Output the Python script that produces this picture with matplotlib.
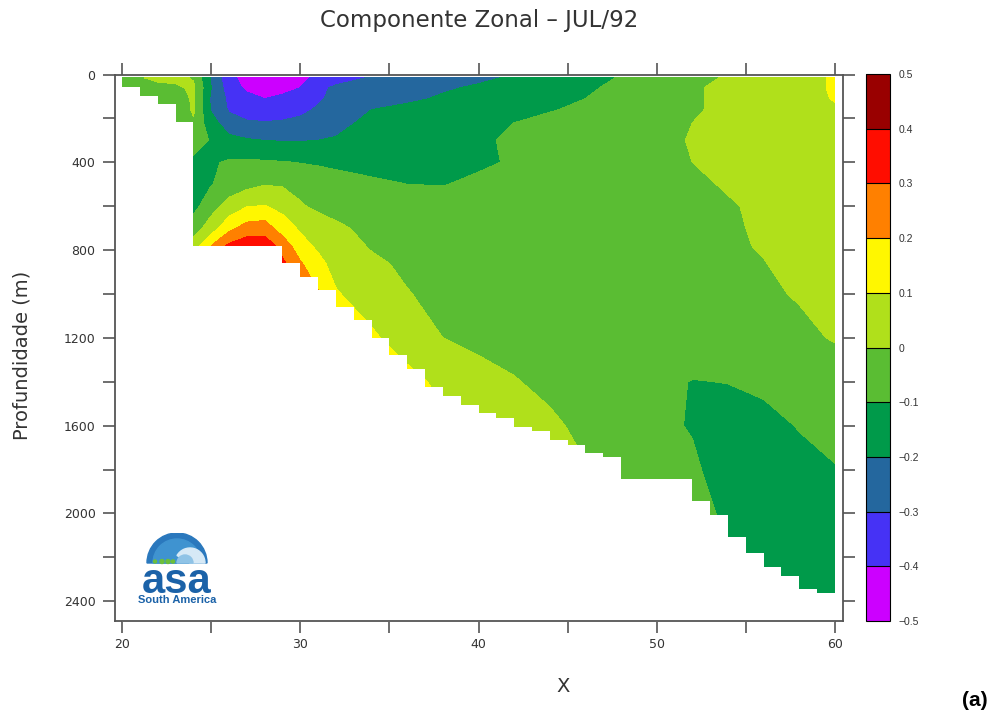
import numpy as np
import matplotlib
matplotlib.use("Agg")
import matplotlib.pyplot as plt
from matplotlib.colors import ListedColormap, BoundaryNorm
from matplotlib.patches import Wedge, Circle

# grid (X, depth in m)
x_nodes = [20, 21, 22, 23, 24, 25, 26, 27, 28, 29, 30, 31, 32,
           34, 36, 38, 40, 42, 44, 46, 48, 50, 52, 54, 56, 58, 60]
depth_nodes = [15, 60, 110, 160, 220, 300, 400, 500, 600, 700, 780, 860,
               1000, 1200, 1400, 1600, 1800, 2000, 2200, 2400]

# zonal velocity estimated at each depth row (one value per x node)
u_0015 = [-0.04, -0.01, 0.03, 0.03, -0.01, -0.21, -0.37, -0.44, -0.47, -0.46, -0.42, -0.38, -0.35,
          -0.29, -0.27, -0.24, -0.215, -0.19, -0.16, -0.125, -0.095, -0.06, -0.03, 0.01, 0.04, 0.07, 0.11]
u_0060 = [-0.04, -0.04, -0.04, -0.02, 0.02, -0.20, -0.35, -0.42, -0.44, -0.43, -0.40, -0.33, -0.28,
          -0.25, -0.23, -0.21, -0.19, -0.16, -0.135, -0.11, -0.085, -0.05, -0.01, 0.02, 0.045, 0.07, 0.11]
u_0110 = [-0.04, -0.05, -0.06, -0.08, 0.02, -0.22, -0.32, -0.37, -0.40, -0.38, -0.35, -0.31, -0.28,
          -0.24, -0.215, -0.19, -0.17, -0.15, -0.125, -0.10, -0.075, -0.045, -0.01, 0.02, 0.045, 0.07, 0.105]
u_0160 = [-0.04, -0.05, -0.07, -0.11, 0.02, -0.21, -0.31, -0.34, -0.35, -0.34, -0.32, -0.29, -0.26,
          -0.20, -0.18, -0.165, -0.15, -0.13, -0.105, -0.085, -0.065, -0.04, -0.01, 0.02, 0.045, 0.07, 0.09]
u_0220 = [-0.05, -0.06, -0.08, -0.10, -0.02, -0.16, -0.26, -0.29, -0.295, -0.29, -0.28, -0.26, -0.235,
          -0.17, -0.155, -0.14, -0.125, -0.10, -0.08, -0.065, -0.045, -0.025, 0.0, 0.02, 0.04, 0.06, 0.08]
u_0300 = [-0.05, -0.06, -0.08, -0.10, -0.04, -0.11, -0.17, -0.19, -0.20, -0.205, -0.205, -0.20, -0.19,
          -0.16, -0.14, -0.125, -0.11, -0.09, -0.075, -0.06, -0.04, -0.02, 0.005, 0.025, 0.04, 0.06, 0.075]
u_0400 = [-0.05, -0.06, -0.07, -0.09, -0.13, -0.11, -0.09, -0.085, -0.09, -0.095, -0.103, -0.11, -0.115,
          -0.12, -0.115, -0.11, -0.108, -0.095, -0.075, -0.055, -0.04, -0.02, 0.0, 0.02, 0.04, 0.055, 0.07]
u_0500 = [-0.05, -0.06, -0.07, -0.09, -0.13, -0.105, -0.06, -0.03, -0.005, -0.01, -0.03, -0.05, -0.07,
          -0.09, -0.10, -0.102, -0.09, -0.075, -0.065, -0.05, -0.035, -0.025, -0.01, 0.005, 0.02, 0.04, 0.06]
u_0600 = [-0.05, -0.06, -0.07, -0.09, -0.13, -0.04, 0.04, 0.095, 0.105, 0.07, 0.01, -0.02, -0.04,
          -0.06, -0.07, -0.075, -0.07, -0.065, -0.055, -0.045, -0.035, -0.025, -0.015, -0.005, 0.01, 0.03, 0.05]
u_0700 = [0.0, 0.0, 0.0, 0.0, -0.05, 0.05, 0.17, 0.24, 0.25, 0.15, 0.085, 0.05, 0.02,
          -0.03, -0.045, -0.05, -0.05, -0.05, -0.045, -0.04, -0.035, -0.03, -0.02, -0.01, 0.01, 0.03, 0.05]
u_0780 = [0.0, 0.0, 0.0, 0.0, 0.05, 0.20, 0.32, 0.36, 0.36, 0.26, 0.14, 0.08, 0.05,
          -0.01, -0.03, -0.04, -0.045, -0.045, -0.04, -0.04, -0.035, -0.03, -0.02, -0.01, 0.005, 0.025, 0.045]
u_0860 = [0.0, 0.0, 0.0, 0.0, 0.08, 0.25, 0.35, 0.38, 0.37, 0.32, 0.21, 0.13, 0.06,
          0.02, -0.02, -0.035, -0.04, -0.04, -0.04, -0.035, -0.03, -0.025, -0.02, -0.01, -0.002, 0.02, 0.04]
u_1000 = [0.1, 0.1, 0.1, 0.1, 0.1, 0.25, 0.33, 0.35, 0.34, 0.30, 0.26, 0.21, 0.11,
          0.04, 0.005, -0.03, -0.035, -0.035, -0.035, -0.03, -0.03, -0.03, -0.025, -0.02, -0.01, 0.005, 0.03]
u_1200 = [0.3, 0.3, 0.3, 0.3, 0.3, 0.3, 0.3, 0.3, 0.3, 0.3, 0.3, 0.25, 0.2,
          0.12, 0.04, 0.0, -0.02, -0.03, -0.035, -0.04, -0.045, -0.05, -0.05, -0.04, -0.03, -0.015, 0.005]
u_1400 = [0.3, 0.3, 0.3, 0.3, 0.3, 0.3, 0.3, 0.3, 0.3, 0.3, 0.3, 0.3, 0.25,
          0.2, 0.14, 0.07, 0.03, 0.005, -0.02, -0.04, -0.06, -0.08, -0.103, -0.098, -0.08, -0.06, -0.04]
u_1600 = [0.25, 0.25, 0.25, 0.25, 0.25, 0.25, 0.25, 0.25, 0.25, 0.25, 0.25, 0.25, 0.25,
          0.22, 0.17, 0.12, 0.07, 0.04, 0.015, -0.02, -0.05, -0.085, -0.105, -0.14, -0.13, -0.095, -0.07]
u_1800 = [0.2, 0.2, 0.2, 0.2, 0.2, 0.2, 0.2, 0.2, 0.2, 0.2, 0.2, 0.2, 0.2,
          0.2, 0.2, 0.2, 0.2, 0.2, 0.03, 0.005, -0.03, -0.07, -0.088, -0.135, -0.15, -0.13, -0.105]
u_2000 = [0.0, 0.0, 0.0, 0.0, 0.0, 0.0, 0.0, 0.0, 0.0, 0.0, 0.0, 0.0, 0.0,
          0.0, 0.0, 0.0, 0.0, 0.0, 0.0, 0.0, -0.05, -0.075, -0.09, -0.105, -0.15, -0.15, -0.14]
u_2200 = [-0.08, -0.08, -0.08, -0.08, -0.08, -0.08, -0.08, -0.08, -0.08, -0.08, -0.08, -0.08, -0.08,
          -0.08, -0.08, -0.08, -0.08, -0.08, -0.08, -0.08, -0.08, -0.08, -0.09, -0.10, -0.14, -0.15, -0.14]
u_2400 = [-0.08, -0.08, -0.08, -0.08, -0.08, -0.08, -0.08, -0.08, -0.08, -0.08, -0.08, -0.08, -0.08,
          -0.08, -0.08, -0.08, -0.08, -0.08, -0.08, -0.08, -0.08, -0.08, -0.09, -0.10, -0.13, -0.14, -0.14]

# sea floor: depth of the deepest valid cell in each 1-unit column, starting at X = 20
bottom_x_start = 20
bottom_depth = [59, 100, 136, 218, 782, 782, 782, 782, 782, 860,
                922, 982, 1059, 1120, 1200, 1280, 1341, 1423, 1464, 1504,
                1541, 1564, 1604, 1623, 1664, 1686, 1723, 1741, 1845, 1845,
                1845, 1845, 1945, 2009, 2105, 2182, 2245, 2286, 2345, 2364]

levels = [-0.5, -0.4, -0.3, -0.2, -0.1, 0.0, 0.1, 0.2, 0.3, 0.4, 0.5]
level_labels = ["\u22120.5", "\u22120.4", "\u22120.3", "\u22120.2", "\u22120.1",
                "0", "0.1", "0.2", "0.3", "0.4", "0.5"]
shade_colors = ["#cc00ff", "#4632f5", "#24679e", "#009a4a", "#5abd33",
                "#b0e01b", "#fff700", "#ff8000", "#ff0d00", "#990000"]

TEXT_COLOR = "#333333"
AXIS_COLOR = "#555555"
LOGO_BLUE = "#1b62a8"


def draw_logo(fig):
    # small axes in pixel units, bottom-left at (130, 607) of the picture
    lax = fig.add_axes([130 / 997, 1 - 607 / 718, 95 / 997, 74 / 718])
    lax.set_xlim(0, 95)
    lax.set_ylim(0, 74)
    lax.set_aspect("equal")
    lax.axis("off")
    lax.add_patch(Wedge((47, 44), 30, 0, 180, color="#2a78bd"))
    lax.add_patch(Wedge((47, 44), 24, 0, 180, color="#3f93d0"))
    lax.add_patch(Wedge((60, 44), 15, 0, 150, color="#d6e9f6"))
    lax.add_patch(Wedge((55, 44), 8, 0, 180, color="#8fc3e6"))
    for cx, r in ((25, 1.5), (32, 2.0), (38, 2.0), (43, 1.6)):
        lax.add_patch(Circle((cx, 45.5), r, color="#6cbf3a"))
    lax.text(47, 14, "asa", ha="center", va="baseline", fontsize=30, fontweight="bold",
             family="Liberation Sans", color=LOGO_BLUE)
    lax.text(47, 4, "South America", ha="center", va="baseline", fontsize=8, fontweight="bold",
             family="Liberation Sans", color=LOGO_BLUE)


def main():
    u = np.array([u_0015, u_0060, u_0110, u_0160, u_0220, u_0300, u_0400, u_0500,
                  u_0600, u_0700, u_0780, u_0860, u_1000, u_1200, u_1400, u_1600,
                  u_1800, u_2000, u_2200, u_2400])
    X, Z = np.meshgrid(x_nodes, depth_nodes)

    cmap = ListedColormap(shade_colors)
    norm = BoundaryNorm(levels, cmap.N)

    fig = plt.figure(figsize=(9.97, 7.18), dpi=100)
    ax = fig.add_axes([0.1153, 0.1351, 0.7302, 0.7611])
    cax = fig.add_axes([0.8686, 0.1351, 0.0241, 0.7618])

    cs = ax.contourf(X, Z, u, levels=levels, cmap=cmap, norm=norm, antialiased=False)

    # white out everything below the sea floor
    edges = np.arange(bottom_x_start, bottom_x_start + len(bottom_depth) + 1)
    floor = np.append(bottom_depth, bottom_depth[-1])
    ax.fill_between(edges, floor, 2600, step="post", color="white", lw=0, zorder=3)

    ax.set_xlim(19.6, 60.45)
    ax.set_ylim(2490, 0)
    ax.set_xticks([20, 30, 40, 50, 60])
    ax.set_xticks([25, 35, 45, 55], minor=True)
    ax.set_yticks(np.arange(0, 2401, 400))
    ax.set_yticks(np.arange(200, 2401, 400), minor=True)
    for which in ("major", "minor"):
        ax.tick_params(which=which, direction="out", length=8.5, width=1.2,
                       color=AXIS_COLOR, top=True, right=True)
    ax.tick_params(axis="x", which="major", pad=4, labelsize=9, labelcolor=TEXT_COLOR)
    ax.tick_params(axis="y", which="major", pad=5.5, labelsize=9, labelcolor=TEXT_COLOR)
    for sp in ax.spines.values():
        sp.set_color(AXIS_COLOR)
        sp.set_linewidth(1.3)
        sp.set_zorder(5)

    cb = fig.colorbar(cs, cax=cax, ticks=levels, drawedges=True)
    cb.outline.set_linewidth(0.8)
    cb.outline.set_edgecolor("black")
    cb.dividers.set_color("black")
    cb.dividers.set_linewidth(0.8)
    cax.set_yticklabels(level_labels, family="Liberation Sans", fontsize=7.5, color=TEXT_COLOR)
    cax.tick_params(length=0, pad=6)

    fig.text(479 / 997, 1 - 21 / 718, "Componente Zonal \u2013 JUL/92", ha="center", va="center",
             fontsize=16.5, color=TEXT_COLOR)
    fig.text(22 / 997, 1 - 355 / 718, "Profundidade (m)", rotation=90, ha="center", va="center",
             fontsize=14, color=TEXT_COLOR)
    fig.text(563 / 997, 1 - 687 / 718, "X", ha="center", va="center", fontsize=14, color=TEXT_COLOR)
    fig.text(975 / 997, 1 - 700 / 718, "(a)", ha="center", va="center", fontsize=15,
             fontweight="bold", family="Liberation Sans", color="black")

    draw_logo(fig)

    fig.savefig("out.png", dpi=100)


if __name__ == "__main__":
    main()
